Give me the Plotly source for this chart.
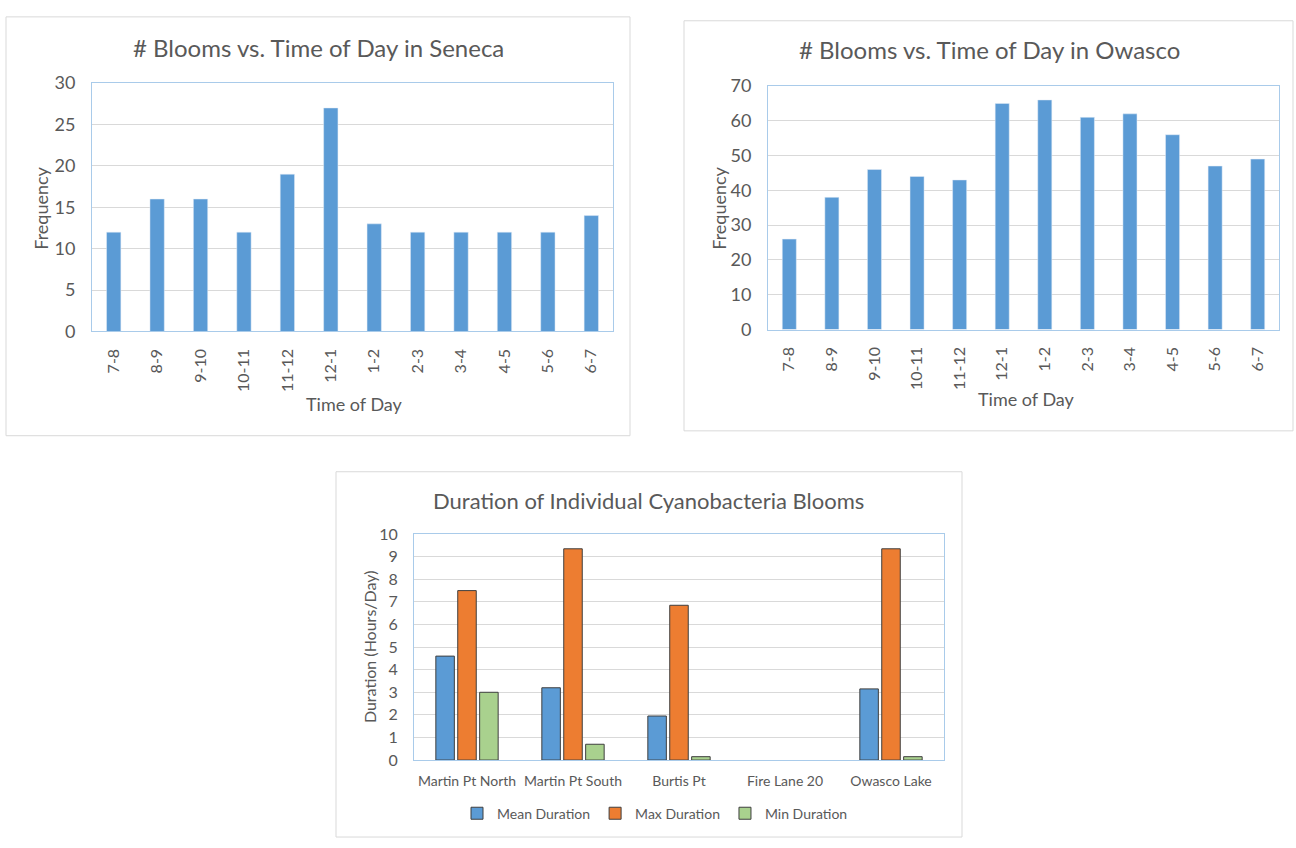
import plotly.graph_objects as go

# ---- data ----
hours = ["7-8", "8-9", "9-10", "10-11", "11-12", "12-1",
         "1-2", "2-3", "3-4", "4-5", "5-6", "6-7"]
seneca_blooms = [12, 16, 16, 12, 19, 27, 13, 12, 12, 12, 12, 14]
owasco_blooms = [26, 38, 46, 44, 43, 65, 66, 61, 62, 56, 47, 49]

sites = ["Martin Pt North", "Martin Pt South", "Burtis Pt", "Fire Lane 20", "Owasco Lake"]
mean_duration = [4.6, 3.2, 1.95, 0, 3.15]
max_duration = [7.5, 9.35, 6.85, 0, 9.35]
min_duration = [3.0, 0.7, 0.15, 0, 0.15]

# ---- styling ----
W, H = 1296, 848
FONT = "Lato"
TXT = "#595959"
GRID = "#D9D9D9"
FRAME = "#A9CBEA"
BLUE, ORANGE, GREEN = "#5B9BD5", "#ED7D31", "#A9D18E"


def px(x):
    return x / W


def py(y):
    return 1 - y / H


fig = go.Figure()

fig.add_trace(go.Bar(x=hours, y=seneca_blooms, marker_color=BLUE, width=0.33,
                     xaxis="x", yaxis="y", showlegend=False))
fig.add_trace(go.Bar(x=hours, y=owasco_blooms, marker_color=BLUE, width=0.33,
                     xaxis="x2", yaxis="y2", showlegend=False))

for name, vals, col in [("Mean Duration", mean_duration, BLUE),
                        ("Max Duration", max_duration, ORANGE),
                        ("Min Duration", min_duration, GREEN)]:
    # zero-height bars get no outline so empty sites stay blank
    outline = [1 if v > 0 else 0 for v in vals]
    fig.add_trace(go.Bar(x=sites, y=vals, name=name, xaxis="x3", yaxis="y3",
                         marker=dict(color=col, line=dict(color="#3F3F3F", width=outline))))

common_x = dict(type="category", showgrid=False, showline=True, mirror=True,
                linecolor=FRAME, linewidth=1, ticks="",
                tickfont=dict(family=FONT, size=16, color=TXT), fixedrange=True)
common_y = dict(showgrid=True, gridcolor=GRID, gridwidth=1, showline=True, mirror=True,
                linecolor=FRAME, linewidth=1, ticks="", zeroline=False,
                tickfont=dict(family=FONT, size=18, color=TXT), ticklabelstandoff=12,
                fixedrange=True)

fig.update_layout(
    width=W, height=H, autosize=False,
    margin=dict(l=0, r=0, t=0, b=0),
    paper_bgcolor="white", plot_bgcolor="white",
    barmode="group", bargap=0.38, bargroupgap=0.155,
    xaxis=dict(domain=[px(92), px(613)], anchor="y", tickangle=-90,
               ticklabelstandoff=10, **common_x),
    yaxis=dict(domain=[py(328), py(73)], anchor="x", range=[0, 30], dtick=5, **common_y),
    xaxis2=dict(domain=[px(768), px(1279)], anchor="y2", tickangle=-90,
                ticklabelstandoff=10, **common_x),
    yaxis2=dict(domain=[py(326), py(76)], anchor="x2", range=[0, 70], dtick=10, **common_y),
    xaxis3=dict(domain=[px(414), px(944)], anchor="y3", tickangle=0,
                ticklabelstandoff=8, **{**common_x, "tickfont": dict(family=FONT, size=14, color=TXT)}),
    yaxis3=dict(domain=[py(768), py(536)], anchor="x3", range=[0, 10], dtick=1,
                **{**common_y, "tickfont": dict(family=FONT, size=16, color=TXT)}),
    legend=dict(orientation="h", x=px(655), xanchor="center", y=py(823), yanchor="middle",
                font=dict(family=FONT, size=14, color=TXT), itemwidth=30,
                bgcolor="rgba(0,0,0,0)", traceorder="normal"),
)

# chart cards
for x0, y0, x1, y1 in [(6, 5, 630, 435), (684, 9, 1293, 430), (336, 472, 962, 847)]:
    fig.add_shape(type="rect", xref="paper", yref="paper",
                  x0=px(x0), x1=px(x1), y0=py(y1), y1=py(y0),
                  line=dict(color=GRID, width=1), fillcolor="rgba(0,0,0,0)", layer="below")

# titles and axis labels
labels = [
    ("# Blooms vs. Time of Day in Seneca", 318, 36, 24, 0),
    ("# Blooms vs. Time of Day in Owasco", 990, 39, 24, 0),
    ("Duration of Individual Cyanobacteria Blooms", 649, 502, 22, 0),
    ("Frequency", 41, 202, 18, -90),
    ("Frequency", 719, 202, 18, -90),
    ("Time of Day", 354, 402, 18, 0),
    ("Time of Day", 1026, 397, 18, 0),
    ("Duration (Hours/Day)", 369, 652, 16, -90),
]
for text, x, y, size, ang in labels:
    fig.add_annotation(text=text, x=px(x), y=py(y), xref="paper", yref="paper",
                       xanchor="center", yanchor="middle", showarrow=False, textangle=ang,
                       font=dict(family=FONT, size=size, color=TXT))

fig.write_html("out.html")
